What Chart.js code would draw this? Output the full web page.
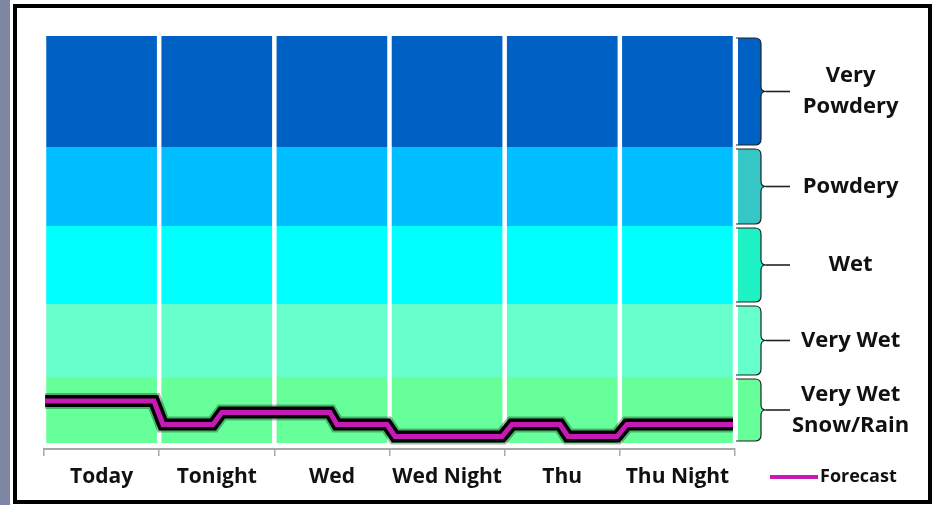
<!DOCTYPE html>
<html>
<head>
<meta charset="utf-8">
<script src="https://cdn.jsdelivr.net/npm/chart.js@4.4.1/dist/chart.umd.min.js"></script>
<style>
  html, body { margin: 0; padding: 0; background: #fff; }
  #wrap { position: relative; width: 935px; height: 505px; overflow: hidden; }
  #strip { position: absolute; left: 0; top: 0; width: 10px; height: 505px; background: #7f86a3; }
  #frame { position: absolute; left: 13px; top: 4px; width: 911px; height: 492px; border: 4px solid #000; }
  #chart { position: absolute; left: 0; top: 0; }
</style>
</head>
<body>
<div id="wrap">
  <div id="strip"></div>
  <div id="frame"></div>
  <canvas id="chart" width="935" height="505"></canvas>
</div>
<script>
// periods along the bottom
const periods = ['Today', 'Tonight', 'Wed', 'Wed Night', 'Thu', 'Thu Night'];

// snow quality bands, bottom to top
const bandLabels = [['Very Wet', 'Snow/Rain'], 'Very Wet', 'Wet', 'Powdery', ['Very', 'Powdery']];
const bandSizes = [66, 73, 78, 79, 111];
const bandColors = ['#66ff99', '#66ffcc', '#00ffff', '#00bfff', '#0061c5'];
const braceColors = ['#66ff99', '#66ffcc', '#1ef3c6', '#35c6c6', '#0061c5'];

// forecast trace (x in period units, y on the band scale)
const forecastX = [-0.49, 0.455, 0.533, 0.967, 1.045, 1.983, 2.044, 2.478, 2.548, 3.477, 3.564, 3.98, 4.05, 4.475, 4.562, 5.483];
const forecastY = [42, 42, 18.5, 18.5, 30.5, 30.5, 18.5, 18.5, 6.5, 6.5, 18.5, 18.5, 6.5, 6.5, 18.5, 18.5];

const yMin = -6;
const yMax = bandSizes.reduce((a, b) => a + b, 0);
const bandCenters = [];
let acc = 0;
bandSizes.forEach(s => { bandCenters.push(acc + s / 2); acc += s; });

const fontFamily = '"Open Sans", "Noto Sans", sans-serif';
const textColor = '#111111';
const forecastColor = '#c61ab6';

const forecastPoints = forecastX.map((x, i) => ({ x: x, y: forecastY[i] }));

const bandSets = bandSizes.map((size, i) => ({
  type: 'bar',
  label: [].concat(bandLabels[i]).join(' '),
  data: periods.map(() => size),
  backgroundColor: bandColors[i],
  borderWidth: 0,
  barPercentage: 0.961,
  categoryPercentage: 1,
  grouped: false,
  stack: 'bands',
  xAxisID: 'x',
  yAxisID: 'y',
  order: 5
}));

function lineSet(label, color, width, order) {
  return {
    type: 'line',
    label: label,
    data: forecastPoints,
    borderColor: color,
    borderWidth: width,
    pointRadius: 0,
    borderCapStyle: 'butt',
    stack: label,
    xAxisID: 'x2',
    yAxisID: 'y',
    order: order
  };
}

// curly braces + forecast key, drawn outside the plot area
const sidePlugin = {
  id: 'sideBits',
  afterDraw(chart) {
    const ctx = chart.ctx;
    const area = chart.chartArea;
    const y = chart.scales.y;
    let base = 0;
    ctx.save();
    bandSizes.forEach((size, i) => {
      const bottom = y.getPixelForValue(base) - 2;
      const top = y.getPixelForValue(base + size) + 2;
      const mid = (top + bottom) / 2;
      base += size;
      const x0 = area.right + 3;
      const x1 = area.right + 26;
      const r = 6;
      const brace = (start) => {
        ctx.beginPath();
        ctx.moveTo(start, top);
        ctx.lineTo(x1 - r, top);
        ctx.quadraticCurveTo(x1, top, x1, top + r);
        ctx.lineTo(x1, mid - 5);
        ctx.quadraticCurveTo(x1, mid, x1 + 5, mid);
        ctx.quadraticCurveTo(x1, mid, x1, mid + 5);
        ctx.lineTo(x1, bottom - r);
        ctx.quadraticCurveTo(x1, bottom, x1 - r, bottom);
        ctx.lineTo(start, bottom);
      };
      brace(x0);
      ctx.closePath();
      ctx.fillStyle = braceColors[i];
      ctx.fill();
      brace(x0 - 2);
      ctx.strokeStyle = '#222';
      ctx.lineWidth = 1.2;
      ctx.stroke();
      ctx.beginPath();
      ctx.moveTo(x1 + 5, mid);
      ctx.lineTo(area.right + 55, mid);
      ctx.lineWidth = 1.6;
      ctx.stroke();
    });

    // forecast key
    const ky = 477;
    const kx = area.right + 35;
    ctx.beginPath();
    ctx.moveTo(kx, ky);
    ctx.lineTo(kx + 48, ky);
    ctx.strokeStyle = forecastColor;
    ctx.lineWidth = 4;
    ctx.stroke();
    ctx.fillStyle = textColor;
    ctx.font = 'bold 18px ' + fontFamily;
    ctx.textAlign = 'left';
    ctx.textBaseline = 'middle';
    ctx.fillText('Forecast', kx + 50, ky);
    ctx.restore();
  }
};

new Chart(document.getElementById('chart'), {
  data: {
    labels: periods,
    datasets: [
      ...bandSets,
      lineSet('glow', 'rgba(0,0,0,0.3)', 16, 3),
      lineSet('outline', '#000', 12, 2),
      lineSet('Forecast', forecastColor, 5, 1)
    ]
  },
  options: {
    responsive: false,
    animation: false,
    layout: { padding: { left: 44, top: 36, right: 15, bottom: 16 } },
    plugins: { legend: { display: false }, tooltip: { enabled: false } },
    scales: {
      x: {
        type: 'category',
        stacked: true,
        offset: true,
        grid: { offset: true, drawOnChartArea: false, drawTicks: true, tickLength: 7, color: '#a8a8a8', lineWidth: 1.5 },
        border: { color: '#a8a8a8', width: 2 },
        ticks: { padding: 8, color: textColor, autoSkip: false, maxRotation: 0, font: { family: fontFamily, size: 21, weight: 'bold' } },
        afterFit: s => { s.height = 40; s.paddingLeft = 0; s.paddingRight = 0; }
      },
      x2: { type: 'linear', display: false, min: -0.5, max: 5.5 },
      y: {
        type: 'linear',
        position: 'right',
        stacked: true,
        min: yMin,
        max: yMax,
        grid: { display: false, drawTicks: false },
        border: { display: false },
        afterBuildTicks: s => { s.ticks = bandCenters.map(v => ({ value: v })); },
        afterFit: s => { s.width = 185; s.paddingTop = 0; s.paddingBottom = 0; },
        ticks: {
          autoSkip: false,
          crossAlign: 'center',
          padding: 57,
          color: textColor,
          font: { family: fontFamily, size: 22, weight: 'bold', lineHeight: 1.4 },
          callback: (v, i) => bandLabels[i]
        }
      }
    }
  },
  plugins: [sidePlugin]
});
</script>
</body>
</html>
